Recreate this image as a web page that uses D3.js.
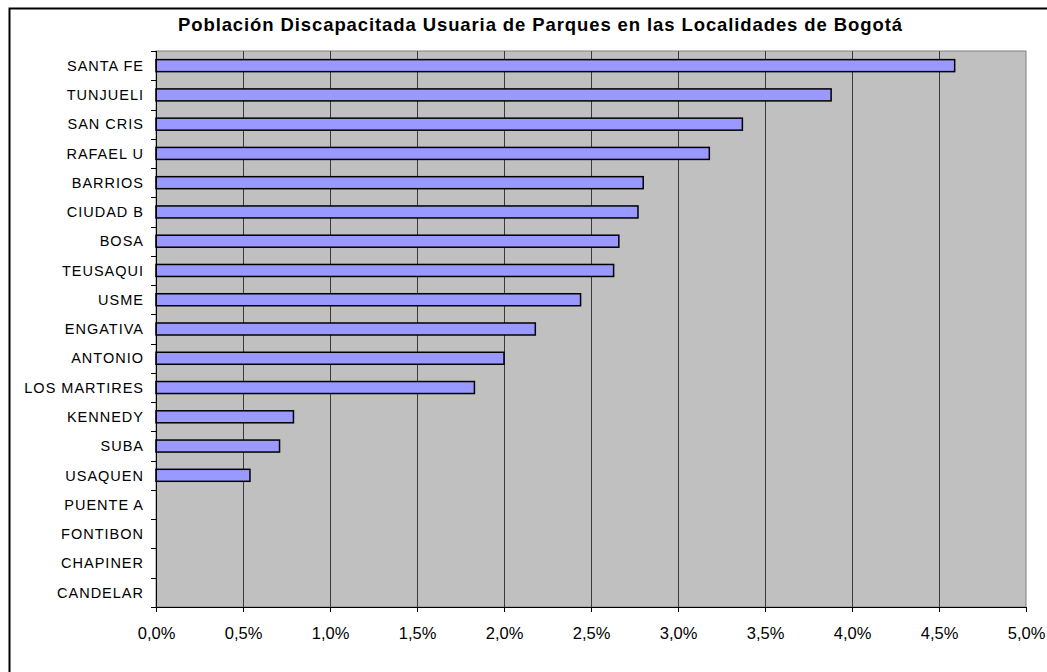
<!DOCTYPE html>
<html>
<head>
<meta charset="utf-8">
<script src="https://cdn.jsdelivr.net/npm/d3@7"></script>
<style>
  body { margin: 0; background: #fff; }
  text { font-family: "Liberation Sans", Arial, sans-serif; }
</style>
</head>
<body>
<svg width="1047" height="672"></svg>
<script>
var localidades = ["SANTA FE", "TUNJUELI", "SAN CRIS", "RAFAEL U", "BARRIOS", "CIUDAD B", "BOSA",
  "TEUSAQUI", "USME", "ENGATIVA", "ANTONIO", "LOS MARTIRES", "KENNEDY", "SUBA", "USAQUEN",
  "PUENTE A", "FONTIBON", "CHAPINER", "CANDELAR"];
var porcentajes = [4.59, 3.88, 3.37, 3.18, 2.80, 2.77, 2.66, 2.63, 2.44, 2.18, 2.00, 1.83, 0.79, 0.71, 0.54,
  0, 0, 0, 0];
var ticksX = [0, 0.5, 1, 1.5, 2, 2.5, 3, 3.5, 4, 4.5, 5];
var titulo = "Población Discapacitada Usuaria de Parques en las Localidades de Bogotá";

var svg = d3.select("svg"),
    width = +svg.attr("width"),
    height = +svg.attr("height");

var plotLeft = 156, plotRight = 1026, plotTop = 51, plotBottom = 607;

var es = d3.formatLocale({decimal: ",", thousands: ".", grouping: [3], currency: ["", "€"]});
var fmt = es.format(".1f");

var x = d3.scaleLinear().domain([0, 5]).range([plotLeft, plotRight]);
var y = d3.scaleBand().domain(localidades).range([plotTop, plotBottom]).paddingInner(0.59).paddingOuter(0.295);

// outer frame (only top and left visible)
svg.append("path")
  .attr("d", "M9.5," + height + "V8.5H" + width)
  .attr("fill", "none").attr("stroke", "#000").attr("stroke-width", 2);

// title
svg.append("text")
  .attr("x", 178).attr("y", 31)
  .attr("textLength", 724).attr("lengthAdjust", "spacing")
  .style("font-size", "18.5px").style("font-weight", "bold")
  .text(titulo);

// plot area
svg.append("rect")
  .attr("x", plotLeft).attr("y", plotTop)
  .attr("width", plotRight - plotLeft).attr("height", plotBottom - plotTop)
  .attr("fill", "#c0c0c0").attr("stroke", "#808080").attr("stroke-width", 1);

// gridlines
svg.append("g")
  .selectAll("line")
  .data(ticksX.slice(1, -1))
  .enter()
  .append("line")
    .attr("x1", function(d){ return Math.round(x(d)) + 0.5 })
    .attr("x2", function(d){ return Math.round(x(d)) + 0.5 })
    .attr("y1", plotTop).attr("y2", plotBottom)
    .attr("stroke", "#3a3a3a").attr("stroke-width", 1);

// bars
svg.append("g")
  .selectAll("rect")
  .data(localidades.filter(function(d, i){ return porcentajes[i] > 0 }))
  .enter()
  .append("rect")
    .attr("x", x(0))
    .attr("y", function(d){ return y(d) })
    .attr("width", function(d){ return x(porcentajes[localidades.indexOf(d)]) - x(0) })
    .attr("height", y.bandwidth())
    .attr("fill", "#9999ff")
    .attr("stroke", "#000")
    .attr("stroke-width", 1.5);

// x axis
var xAxis = d3.axisBottom(x).tickValues(ticksX).tickSize(5).tickPadding(15)
  .tickFormat(function(d){ return fmt(d) + "%" });
svg.append("g")
  .attr("transform", "translate(0," + plotBottom + ")")
  .call(xAxis)
  .call(function(g){ g.selectAll("text").style("font-size", "16.5px").attr("fill", "#000") })
  .call(function(g){ g.select(".domain").attr("stroke", "#000") });

// y axis: ticks on band boundaries, labels centered in bands
var yAxis = svg.append("g");
yAxis.append("line")
  .attr("x1", plotLeft + 0.5).attr("x2", plotLeft + 0.5)
  .attr("y1", plotTop).attr("y2", plotBottom)
  .attr("stroke", "#000");
yAxis.selectAll("line.t")
  .data(d3.range(localidades.length + 1))
  .enter()
  .append("line")
    .attr("class", "t")
    .attr("x1", plotLeft - 5).attr("x2", plotLeft)
    .attr("y1", function(i){ return Math.round(plotTop + i * y.step()) + 0.5 })
    .attr("y2", function(i){ return Math.round(plotTop + i * y.step()) + 0.5 })
    .attr("stroke", "#000");
yAxis.selectAll("text")
  .data(localidades)
  .enter()
  .append("text")
    .attr("x", 144)
    .attr("y", function(d){ return y(d) + y.bandwidth() / 2 })
    .attr("dy", "0.36em")
    .attr("text-anchor", "end")
    .style("font-size", "14.5px")
    .style("letter-spacing", "1px")
    .text(function(d){ return d });
</script>
</body>
</html>
